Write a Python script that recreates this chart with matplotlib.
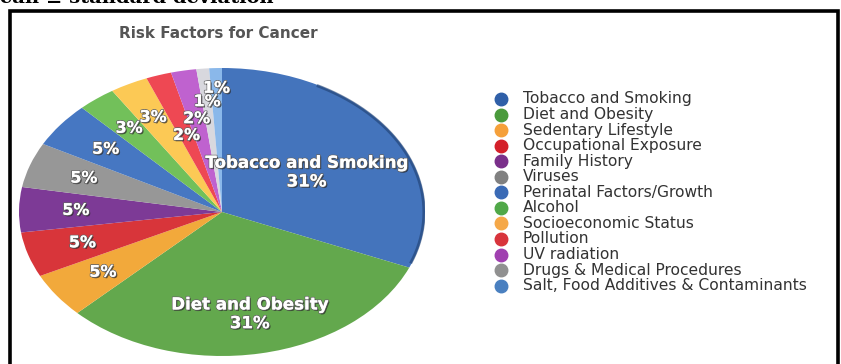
import numpy as np
import matplotlib
matplotlib.use("Agg")
import matplotlib.pyplot as plt
import matplotlib.patheffects as pe
from matplotlib.patches import Rectangle

# risk factors and their share of cancer cases (%)
factors = [
    "Tobacco and Smoking", "Diet and Obesity", "Sedentary Lifestyle",
    "Occupational Exposure", "Family History", "Viruses",
    "Perinatal Factors/Growth", "Alcohol", "Socioeconomic Status",
    "Pollution", "UV radiation", "Drugs & Medical Procedures",
    "Salt, Food Additives & Contaminants",
]
shares = [31, 31, 5, 5, 5, 5, 5, 3, 3, 2, 2, 1, 1]
slice_colors = [
    "#4474bc", "#63a84d", "#f2a93b", "#d8353a", "#7d3a96", "#979797",
    "#4677c2", "#72c05a", "#fcc955", "#ee4853", "#bf62cf", "#d8d8de",
    "#8ab8ea",
]
legend_colors = [
    "#2f5fa8", "#4a9a3c", "#f5a03a", "#d4202a", "#7a2f8a", "#808080",
    "#3a6ab5", "#50a848", "#f5a848", "#d8343c", "#a040b0", "#909090",
    "#4a80c0",
]
# radial position of each percentage label (fraction of the radius)
label_r = [0.50, 0.72, 0.72, 0.72, 0.72, 0.72, 0.72, 0.74, 0.74,
           0.56, 0.66, 0.77, 0.86]

W, H = 841, 364
fig = plt.figure(figsize=(W / 100, H / 100), dpi=100)
fig.patch.set_facecolor("white")

# pie drawn on a stretched axes so it comes out as a tilted ellipse
cx, cy, a, b = 222, 212, 203, 144
ax = fig.add_axes([(cx - a) / W, (H - cy - b) / H, 2 * a / W, 2 * b / H])
wedges, _ = ax.pie(shares, colors=slice_colors, startangle=90,
                   counterclock=False, radius=1.0,
                   wedgeprops=dict(edgecolor="none"))
ax.set_aspect("auto")
ax.set_xlim(-1, 1)
ax.set_ylim(-1, 1)
ax.axis("off")

# darker rim on the upper right to give the disc some depth
theta = np.linspace(-21, 62, 200)
ax.plot(np.cos(np.radians(theta)) * 0.995, np.sin(np.radians(theta)) * 0.995,
        color="#1f3f70", lw=2.2, alpha=0.6, solid_capstyle="butt")

shadow = [pe.withSimplePatchShadow(offset=(1, -1), shadow_rgbFace="#222222", alpha=0.7),
          pe.withStroke(linewidth=1.2, foreground="#666666"), pe.Normal()]

for i, (w, v) in enumerate(zip(wedges, shares)):
    mid = np.radians((w.theta1 + w.theta2) / 2)
    x, y = label_r[i] * np.cos(mid), label_r[i] * np.sin(mid)
    txt = f"{v}%"
    if i < 2:
        txt = f"{factors[i]}\n{v}%"
    ax.text(x, y, txt, ha="center", va="center", color="white",
            fontsize=12 if i < 2 else 11.5, fontweight="bold",
            linespacing=1.05, family="DejaVu Sans", path_effects=shadow)

fig.text(218 / W, 1 - 33 / H, "Risk Factors for Cancer", ha="center",
         va="center", fontsize=11, fontweight="bold", color="#555555")

# legend, one row per factor
y0, dy = 99, 15.55
for i, (name, c) in enumerate(zip(factors, legend_colors)):
    yy = 1 - (y0 + i * dy) / H
    fig.add_artist(plt.Line2D([501 / W], [yy], marker="o", markersize=9,
                              color=c, ls="", transform=fig.transFigure))
    fig.text(523 / W, yy, name, ha="left", va="center", fontsize=11.2,
             color="#333333")

# surrounding frame
fig.add_artist(Rectangle((10 / W, -0.05), 828 / W, 1.05 - 11 / H,
                         transform=fig.transFigure, fill=False,
                         edgecolor="black", lw=2.6))

# caption running off the top edge
fig.text(0, 1 - 3 / H, "ean \u00b1 standard deviation", ha="left",
         va="baseline", fontsize=14, fontweight="bold", family="DejaVu Serif")

fig.savefig("out.png", dpi=100)
